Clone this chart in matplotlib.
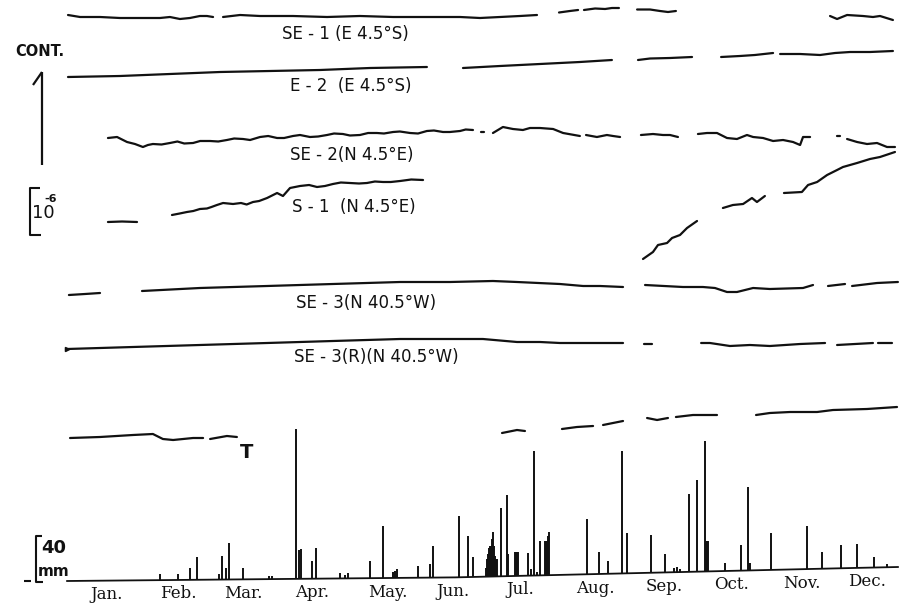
"""
Strain records (extensometers SE-1 ... SE-3(R), T) with daily rainfall, Jan.-Dec.
Redrawn from a scanned figure.
"""

import numpy as np
import matplotlib
matplotlib.use("Agg")
import matplotlib.pyplot as plt

# ---- data ----------------------------------------------------------------
# x: day of year; trace values: chart units (10^-6 strain = 47 units),
# measured from each trace's own reference level.

MONTHS = ["Jan.", "Feb.", "Mar.", "Apr.", "May.", "Jun.",
          "Jul.", "Aug.", "Sep.", "Oct.", "Nov.", "Dec."]
MONTH_DAYS = [15.0, 46.3, 74.9, 105.3, 138.8, 167.4,
              197.0, 230.0, 260.4, 290.3, 321.1, 349.8]

SE1_DAYS = [[-2.2, 3.1, 11.9, 20.7, 29.5, 38.3, 42.7, 47.1, 51.5, 55.9, 59.0, 61.7],
            [66.1, 73.6, 82.4, 96.9, 111.9, 126.4, 141.0, 155.9, 170.5, 179.3, 188.1, 196.9, 204.4],
            [214.1, 218.9, 222.5],
            [225.1, 230.0, 234.4, 237.4, 240.5],
            [248.5, 254.2, 258.6, 262.1, 265.6],
            [333.5, 336.6, 341.0, 348.0, 352.4, 355.5, 361.2]]
SE1_DEV = [[3, 1, 1, 0, 0, 0, 1, -1, 0, 2, 2, 1],
           [1, 3, 2, 2, 1, 2, 1, 1, 1, 0, 1, 2, 3],
           [5.5, 7, 8],
           [8, 9.5, 9, 10, 10],
           [8.5, 8.5, 7, 6, 7],
           [2, -1, 3, 2, 1, 2, -2]]

E2_DAYS = [[-2.2, 20.7, 42.7, 64.8, 86.8, 108.8, 130.8, 155.9],
           [171.8, 188.1, 205.7, 223.3, 237.4],
           [248.9, 254.2, 263.0, 272.7],
           [285.5, 293.8, 300.4, 308.4],
           [311.5, 320.3, 329.1, 335.7, 342.3, 351.1, 361.2]]
E2_DEV = [[-9, -8, -6, -4, -3, -2, 0, 1],
          [0, 2, 4, 6, 8],
          [8, 9.5, 10, 11],
          [11, 12, 13, 15],
          [14, 14, 13, 15, 16, 16, 17]]

SE2_DAYS = [[15.4, 19.4, 23.8, 27.3, 30.8, 33.0, 35.2, 39.0, 42.7, 46.0, 49.0, 52.9,
             56.0, 60.4, 64.0, 67.8, 71.0, 74.9, 78.0, 82.4, 86.0, 89.9, 93.0, 96.9,
             100.0, 104.4, 108.0, 111.9, 115.0, 118.9, 122.0, 126.4, 130.0, 133.9,
             137.0, 141.0, 144.0, 148.5, 152.0, 155.9, 159.0, 163.0, 166.0, 170.5,
             173.0, 176.2],
            [179.8, 181.0],
            [185.0, 189.4, 193.8, 198.2, 201.3, 205.7, 211.5, 215.9, 223.3],
            [226.0, 230.8, 235.2, 237.9, 241.0],
            [250.2, 255.5, 259.9, 263.0, 266.5],
            [275.3, 279.3, 283.7, 288.1, 292.5, 296.9, 299.6, 304.0, 308.4, 312.8,
             317.2, 320.3, 321.6, 324.7],
            [336.6, 337.8],
            [341.0, 345.4, 349.8, 354.2, 358.6, 362.1]]
SE2_DEV = [[-1, 0, -5, -7, -10, -8, -7, -7.5, -6, -4.5, -6.5, -6,
            -4, -4, -4.5, -3, -1.5, -2, -3, 0, 1, -1, -1, 1,
            2, 0, 0.5, 2, 3.5, 3, 1.5, 2, 4, 4,
            3.5, 5, 5.5, 4, 3.5, 6, 6.5, 5, 5, 6,
            7.5, 7],
           [5, 5],
           [4, 10, 8, 7, 9, 9, 8, 4, 1],
           [2, 0, 2, 1, 0],
           [2, 3, 2, 2, 0],
           [3, 4, 4, -1, -2, 2, 0, -1, -4, -3, -5, -8, 0, 0],
           [1, 1],
           [-2, -5, -7, -6, -10, -10]]

S1_DAYS = [[15.4, 21.6, 28.2],
           [43.6, 47.0, 50.2, 53.0, 55.9, 59.0, 61.0, 63.4, 66.1, 70.5, 74.0, 76.5,
            79.3, 82.0, 85.5, 89.9, 92.5, 95.6, 100.0, 104.0, 107.5, 111.0, 114.5,
            118.0, 122.0, 126.0, 129.5, 133.0, 136.6, 140.0, 144.1, 149.0, 154.2],
           [251.1, 255.5, 257.7, 261.7, 263.9, 267.4, 270.5, 274.9],
           [286.3, 290.7, 295.2, 299.1, 301.3, 304.8],
           [313.2, 321.1, 323.8, 327.8, 332.2, 336.6, 339.2, 345.4, 351.1, 355.5, 362.1]]
S1_DEV = [[-22, -21.5, -22],
          [-15, -13.5, -12, -11, -9, -8.5, -7, -5, -3, -4, -3, -4.5,
           -2, -1, 2, 7, 4, 12, 14, 15, 13, 14, 16,
           17.5, 17, 16.5, 17, 18.5, 18, 18, 19, 20.5, 20],
          [-59, -52, -45, -43, -38, -35, -28, -21],
          [-8, -5, -4, 2, -2, 4],
          [7, 8, 15, 18, 25, 30, 33, 37, 41, 43, 48]]

SE3_DAYS = [[-1.8, 5.3, 11.9],
            [30.4, 55.9, 85.5, 114.5, 144.1, 166.1, 185.0, 195.6, 214.5, 224.7, 232.2, 242.3],
            [252.0, 268.7, 277.5, 282.8, 288.1, 292.5, 299.6, 307.0, 321.6, 326.0],
            [332.6, 340.1],
            [343.2, 354.2, 363.4]]
SE3_DEV = [[-10, -9, -8],
           [-6, -3, -1, 1, 3, 3, 4, 3, 1, -1, -1, -2],
           [0, -2, -2, -3, -7, -7, -3, -4, -3, 0],
           [-1, 1],
           [-1, 2, 3]]

SE3R_DAYS = [[-2.6, 26.4, 55.9, 85.5, 114.5, 144.1, 166.1, 180.6, 195.6, 205.7, 214.5, 224.7, 242.3],
             [251.5, 255.1],
             [276.7, 280.6, 289.4, 298.2, 307.0, 320.3, 331.3],
             [336.6, 352.4],
             [354.6, 360.8]]
SE3R_DEV = [[-6, -4, -2, 0, 2, 4, 4, 4, 1, 1, 0, 0, 0],
            [-1, -1],
            [0, 0, -3, -2, -3, -1, 0],
            [-2, 0],
            [0, 0]]

T_DAYS = [[-1.3, 11.9, 26.4, 35.2, 39.6, 44.1, 52.9, 57.3],
          [60.4, 67.8, 72.2],
          [189.0, 195.6, 199.1],
          [215.4, 222.0, 229.1],
          [233.5, 237.9, 242.3],
          [252.9, 257.3, 262.1],
          [265.6, 273.1, 283.7],
          [300.9, 307.0, 315.9, 327.8, 334.8, 349.8, 363.0]]
T_DEV = [[-8, -7, -5, -4, -9, -10, -8, -8],
         [-9, -6, -7],
         [-3, 0, -1],
         [1, 3, 4],
         [5, 7, 9],
         [12, 10, 12],
         [13, 15, 15],
         [15, 17, 18, 18, 20, 21, 23]]

# daily rainfall (mm)
RAIN_DAYS = [38.3, 46.3, 51.5, 54.6, 64.3, 65.6, 67.4, 68.7, 74.9, 86.3, 87.7,
             98.2, 99.6, 100.4, 105.3, 107.0, 117.6, 119.8, 121.1, 130.8, 136.6,
             141.0, 141.9, 142.7, 152.0, 157.3, 158.6, 170.0, 174.0, 176.2,
             181.9, 182.4, 182.8, 183.3, 183.7, 184.1, 184.6, 185.0, 185.5, 185.9, 186.3, 186.8,
             188.5, 191.2, 191.6, 194.7, 195.2, 195.6, 196.0, 200.4, 201.8, 203.1, 204.4,
             205.7, 207.9, 208.4, 208.8, 209.3, 209.7, 226.4, 231.7, 235.7, 241.9, 244.1,
             254.6, 260.8, 264.8, 266.1, 267.4, 271.4, 274.9, 278.4, 278.9, 279.3, 279.7,
             287.2, 294.3, 297.4, 297.8, 298.2, 307.5, 323.3, 330.0, 338.3, 345.4,
             352.9, 358.6]
RAIN_MM = [5, 5, 10, 19, 5, 20, 10, 31, 10, 3, 3,
           128, 25, 25, 15, 26, 5, 3, 5, 15, 44,
           5, 6, 8, 10, 12, 27, 52, 35, 17,
           7, 15, 19, 24, 26, 26, 32, 38, 26, 17, 15, 15,
           58, 69, 19, 20, 20, 20, 20, 19, 6, 106, 3,
           29, 29, 29, 29, 33, 37, 47, 19, 11, 104, 34,
           32, 16, 4, 4, 3, 66, 78, 111, 26, 26, 26,
           7, 22, 71, 6, 6, 31, 37, 14, 20, 20,
           9, 3]

# rain record base line (slightly drifting on the chart)
BASE_DAYS = [-2.6, 166.1, 241.9, 278.4, 323.3, 363.4]
BASE_LEVEL = [27, 30.5, 34.5, 36.5, 39, 41]

# ---- layout ---------------------------------------------------------------
W, H = 899, 608
MM = 47 / 40.0          # chart units per mm of rain
TRACES = [  # (days, deviations, reference level, label, label x px, label y px)
    (SE1_DAYS, SE1_DEV, 590, "SE - 1 (E 4.5\u00b0S)", 345, 34),
    (E2_DAYS, E2_DEV, 540, "E - 2  (E 4.5\u00b0S)", 351, 86),
    (SE2_DAYS, SE2_DEV, 471, "SE - 2(N 4.5\u00b0E)", 352, 155),
    (S1_DAYS, S1_DEV, 408, "S - 1  (N 4.5\u00b0E)", 354, 207),
    (SE3_DAYS, SE3_DEV, 323, "SE - 3(N 40.5\u00b0W)", 366, 303),
    (SE3R_DAYS, SE3R_DEV, 265, "SE - 3(R)(N 40.5\u00b0W)", 376, 357),
    (T_DAYS, T_DEV, 178, None, 0, 0),
]
X0 = -73 / 2.27
X1 = (W - 73) / 2.27

fig = plt.figure(figsize=(W / 100, H / 100), dpi=100)
ax = fig.add_axes([0, 0, 1, 1])
ax.set_xlim(X0, X1)
ax.set_ylim(0, H)
ax.axis("off")

INK = "#111111"
LW = 1.6


def ptext(px, py, s, **kw):
    kw.setdefault("color", INK)
    fig.text(px / W, 1 - py / H, s, ha=kw.pop("ha", "center"),
             va=kw.pop("va", "center"), **kw)


def pline(xs, ys, lw=1.5):
    fig.add_artist(plt.Line2D([x / W for x in xs], [1 - y / H for y in ys],
                              color=INK, lw=lw, solid_capstyle="butt"))


for days, devs, level, label, lx, ly in TRACES:
    for d, v in zip(days, devs):
        ax.plot(d, level + np.asarray(v, float), color=INK, lw=LW,
                solid_capstyle="round", solid_joinstyle="round")
    if label:
        ptext(lx, ly, label, fontsize=12, family="DejaVu Sans")

# start mark of SE-3(R)
ax.plot(SE3R_DAYS[0][0], 265 + SE3R_DEV[0][0], marker=">", ms=3, color=INK)
ptext(247, 452, "T", fontsize=14, fontweight="bold", family="DejaVu Sans")

# rainfall
bd = np.linspace(BASE_DAYS[0], BASE_DAYS[-1], 200)
ax.plot(bd, np.interp(bd, BASE_DAYS, BASE_LEVEL), color=INK, lw=1.3)
rd = np.asarray(RAIN_DAYS)
base = np.interp(rd, BASE_DAYS, BASE_LEVEL)
ax.vlines(rd, base, base + np.asarray(RAIN_MM) * MM, color=INK, lw=1.4)

for m, d in zip(MONTHS, MONTH_DAYS):
    ax.text(d, np.interp(d, BASE_DAYS, BASE_LEVEL) - 14, m, ha="center",
            va="center", fontsize=12, family="DejaVu Serif", color=INK)

# CONT. arrow and 10^-6 scale
ptext(40, 52, "CONT.", fontsize=10.5, fontweight="bold", family="DejaVu Sans")
pline([42, 42], [72, 165], lw=1.6)
pline([33, 42], [85, 72], lw=1.6)
pline([40, 30, 30, 41], [188, 188, 235, 235], lw=1.5)
ptext(43, 213, "10", fontsize=13, family="DejaVu Sans")
ptext(51, 199, "-6", fontsize=8, fontweight="bold", family="DejaVu Sans")

# 40 mm rain scale
pline([42, 36, 36, 43], [536, 536, 582, 582], lw=1.5)
pline([24, 31], [581, 581], lw=1.5)
ptext(54, 548, "40", fontsize=13, fontweight="bold", family="DejaVu Sans")
ptext(54, 572, "mm", fontsize=11, fontweight="bold", family="DejaVu Sans")

fig.savefig("out.png", dpi=100)
plt.close(fig)
